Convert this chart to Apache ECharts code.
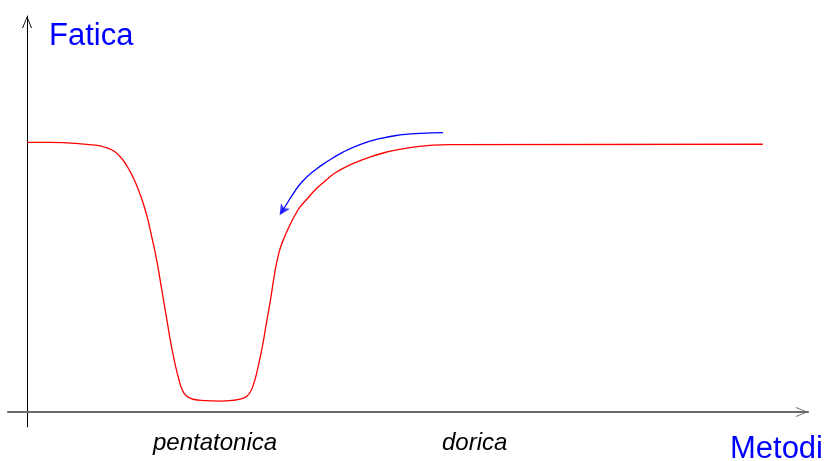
<!DOCTYPE html>
<html>
<head>
<meta charset="utf-8">
<script src="https://cdn.jsdelivr.net/npm/echarts@6/dist/echarts.min.js"></script>
<style>
html,body{margin:0;padding:0;background:#fff;}
#c{width:829px;height:461px;}
</style>
</head>
<body>
<div id="c"></div>
<script>
// Fatigue curve (red) by method position
const fatigueCurve = [
  [0,17.98],[1.2,17.97],[2.52,17.91],[3.57,17.79],[4.09,17.65],[4.51,17.43],
  [4.83,17.1],[5.09,16.7],[5.35,16.17],[5.61,15.53],[5.85,14.8],[6.06,14.07],
  [6.24,13.3],[6.4,12.53],[6.56,11.6],[6.72,10.67],[6.87,9.67],[7.03,8.47],
  [7.19,7.27],[7.35,6.07],[7.5,4.93],[7.66,3.87],[7.82,2.93],[7.98,2.13],
  [8.13,1.53],[8.34,1.1],[8.71,0.85],[9.34,0.76],[10.13,0.73],[10.76,0.77],
  [11.23,0.87],[11.55,1.07],[11.76,1.43],[11.91,1.93],[12.07,2.67],[12.23,3.6],
  [12.39,4.6],[12.54,5.73],[12.7,6.87],[12.86,8.13],[13.02,9.4],[13.17,10.33],
  [13.33,11.07],[13.54,11.73],[13.8,12.47],[14.07,13.13],[14.33,13.67],[14.7,14.2],
  [15.12,14.8],[15.65,15.4],[16.17,15.93],[16.95,16.47],[17.85,16.93],[18.79,17.3],
  [19.58,17.51],[20.37,17.67],[21.31,17.79],[22.2,17.83],[38.63,17.85]
];
// Blue arrow path
const arrowPath = [
  [21.84,18.62],[20.63,18.58],[19.58,18.47],[18.53,18.23],[17.48,17.83],[16.59,17.33],
  [15.8,16.73],[15.06,16.07],[14.43,15.33],[13.96,14.53],[13.6,13.8],[13.33,13.27]
];
const arrowHead = [[13.26,13.11]];
// Method labels on the x axis
const methodNames = ['pentatonica','dorica'];
const methodPositions = [9.87, 23.5];
const yTitle = 'Fatica';
const xTitle = 'Metodi';

const chevron = 'path://M5,0 L10,12 L9,12 L5,2 L1,12 L0,12 Z';

const chart = echarts.init(document.getElementById('c'), null, {renderer:'canvas'});
chart.setOption({
  animation:false,
  backgroundColor:'#fff',
  title:[
    {text:yTitle, left:49, top:21, padding:0, textStyle:{color:'#0000ff', fontSize:31, fontWeight:'normal', fontFamily:'Liberation Sans'}},
    {text:xTitle, right:6, top:434, padding:0, textStyle:{color:'#0000ff', fontSize:31, fontWeight:'normal', fontFamily:'Liberation Sans'}}
  ],
  grid:{left:8, right:21, top:16, bottom:34, containLabel:false},
  xAxis:{
    type:'value', min:-1, max:41,
    axisLine:{onZero:true, symbol:['none', chevron], symbolSize:[10,12], symbolOffset:[0,-6],
      lineStyle:{color:'#6a6a6a', width:2}},
    axisTick:{show:false},
    splitLine:{show:false},
    axisLabel:{
      customValues:methodPositions,
      margin:4,
      fontSize:24, fontStyle:'italic', color:'#000', fontFamily:'Liberation Sans',
      formatter:function(v){
        for (let i=0;i<methodPositions.length;i++){ if (Math.abs(methodPositions[i]-v)<1e-6) return methodNames[i]; }
        return '';
      }
    }
  },
  yAxis:{
    type:'value', min:-1, max:26.4,
    axisLine:{onZero:true, symbol:['none', chevron], symbolSize:[10,12], symbolOffset:[0,-6],
      lineStyle:{color:'#000', width:1}},
    axisTick:{show:false},
    axisLabel:{show:false},
    splitLine:{show:false}
  },
  series:[
    {type:'line', data:fatigueCurve, smooth:0.5, showSymbol:false,
      lineStyle:{color:'#ff0000', width:1.3}, silent:true},
    {type:'line', data:arrowPath, smooth:0.5, showSymbol:false,
      lineStyle:{color:'#0000ff', width:1.3}, silent:true},
    {type:'scatter', data:arrowHead, symbol:'arrow', symbolSize:[8,11], symbolRotate:148,
      itemStyle:{color:'#0000ff'}, silent:true}
  ]
});
</script>
</body>
</html>
